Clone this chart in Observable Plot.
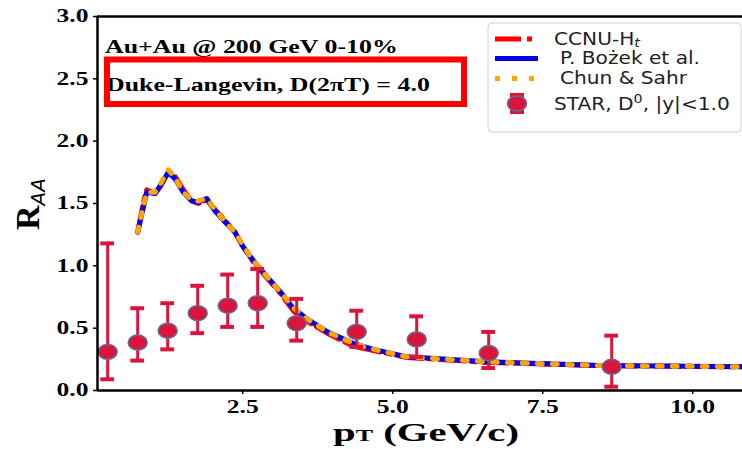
<!DOCTYPE html>
<html><head><meta charset="utf-8">
<script src="https://cdn.jsdelivr.net/npm/d3@7"></script>
<script src="https://cdn.jsdelivr.net/npm/@observablehq/plot@0.6"></script>
<style>
body{margin:0;background:#fff;}
#wrap{position:relative;width:742px;height:449px;overflow:hidden;background:#fff;}
</style></head>
<body><div id="wrap"></div>
<script>
// ---- data ----
const xTicks = [2.5, 5.0, 7.5, 10.0];
const yTicks = [0, 0.5, 1.0, 1.5, 2.0, 2.5, 3.0];

const starPt   = [0.25, 0.75, 1.25, 1.75, 2.25, 2.75, 3.4, 4.4, 5.4, 6.6, 8.65];
const starRaa  = [0.31, 0.385, 0.48, 0.62, 0.68, 0.70, 0.54, 0.47, 0.41, 0.30, 0.19];
const starLow  = [0.09, 0.24, 0.33, 0.46, 0.51, 0.51, 0.40, 0.35, 0.27, 0.18, 0.03];
const starHigh = [1.18, 0.66, 0.70, 0.84, 0.93, 0.975, 0.735, 0.64, 0.595, 0.47, 0.44];

const modelPt = [0.75, 0.845, 0.90, 1.04, 1.12, 1.26, 1.37, 1.51, 1.65, 1.76, 1.90, 2.04, 2.21, 2.37, 2.51, 2.68, 2.91, 3.13, 3.35, 3.57, 3.91, 4.24, 4.35, 4.68, 5.24, 6.57, 8.46, 10.83];
const ccnu    = [1.27, 1.51, 1.61, 1.58, 1.63, 1.75, 1.72, 1.61, 1.52, 1.50, 1.53, 1.45, 1.36, 1.27, 1.15, 1.03, 0.90, 0.78, 0.635, 0.555, 0.46, 0.38, 0.355, 0.32, 0.265, 0.225, 0.20, 0.19];
const bozek   = [1.27, 1.47, 1.59, 1.58, 1.64, 1.75, 1.70, 1.59, 1.52, 1.51, 1.54, 1.44, 1.35, 1.27, 1.15, 1.04, 0.91, 0.79, 0.655, 0.575, 0.47, 0.40, 0.375, 0.33, 0.27, 0.23, 0.20, 0.19];
const chun    = [1.27, 1.48, 1.59, 1.59, 1.65, 1.77, 1.71, 1.59, 1.53, 1.52, 1.54, 1.45, 1.35, 1.27, 1.16, 1.04, 0.91, 0.79, 0.66, 0.575, 0.47, 0.40, 0.375, 0.33, 0.27, 0.23, 0.20, 0.19];

const star = starPt.map((x, i) => ({x, y: starRaa[i], lo: starLow[i], hi: starHigh[i]}));
const models = [
  {name: "CCNU", vals: ccnu},
  {name: "Bozek", vals: bozek},
  {name: "Chun", vals: chun}
];
const modelRows = name => modelPt.map((x, i) => ({x, y: models.find(m => m.name === name).vals[i]}));

const RED = "#ff0000", BLUE = "#0000f0", ORANGE = "#ffa500", CRIMSON = "#dc143c", DOTSTROKE = "#5d6f92";
const capHalf = 0.115;

const ellipse = {
  draw(ctx, size) {
    const r = Math.sqrt(size / Math.PI), rx = r * 1.13, ry = r * 0.89, k = 0.5523;
    ctx.moveTo(rx, 0);
    ctx.bezierCurveTo(rx, ry * k, rx * k, ry, 0, ry);
    ctx.bezierCurveTo(-rx * k, ry, -rx, ry * k, -rx, 0);
    ctx.bezierCurveTo(-rx, -ry * k, -rx * k, -ry, 0, -ry);
    ctx.bezierCurveTo(rx * k, -ry, rx, -ry * k, rx, 0);
    ctx.closePath();
  }
};

const SERIF = '"Liberation Serif", "Times New Roman", serif';
const SANS = '"DejaVu Sans", sans-serif';

const svg = Plot.plot({
  width: 742, height: 449,
  marginLeft: 97, marginRight: 0, marginTop: 16, marginBottom: 59,
  style: {fontFamily: SERIF, fontSize: "18px", fontWeight: "bold", color: "#000", background: "#fff", overflow: "visible"},
  x: {domain: [0.08, 10.83]},
  y: {domain: [0, 3]},
  marks: [
    Plot.line(modelRows("CCNU"), {x: "x", y: "y", stroke: RED, strokeWidth: 5, strokeDasharray: "26,6,5,6", curve: "linear"}),
    Plot.line(modelRows("Bozek"), {x: "x", y: "y", stroke: BLUE, strokeWidth: 5, curve: "linear"}),
    Plot.line(modelRows("Chun"), {x: "x", y: "y", stroke: ORANGE, strokeWidth: 5, strokeDasharray: "5,10", curve: "linear"}),
    Plot.ruleX(star, {x: "x", y1: "lo", y2: "hi", stroke: CRIMSON, strokeWidth: 3}),
    Plot.ruleY(star, {y: "lo", x1: d => d.x - capHalf, x2: d => d.x + capHalf, stroke: CRIMSON, strokeWidth: 4}),
    Plot.ruleY(star, {y: "hi", x1: d => d.x - capHalf, x2: d => d.x + capHalf, stroke: CRIMSON, strokeWidth: 4}),
    Plot.dot(star, {x: "x", y: "y", r: 8.4, symbol: ellipse, fill: CRIMSON, stroke: DOTSTROKE, strokeWidth: 1.5}),
    Plot.ruleY([0, 3], {stroke: "#000", strokeWidth: 2.5}),
    Plot.ruleX([0.08], {stroke: "#000", strokeWidth: 2.5}),
    Plot.axisY({ticks: yTicks, tickFormat: d => d.toFixed(1), tickSize: 4, tickPadding: 5, label: null, strokeWidth: 1.5}),
    Plot.axisX({ticks: xTicks, tickFormat: d => d.toFixed(1), tickSize: 4, tickPadding: 6, label: null, strokeWidth: 1.5})
  ]
});

document.getElementById("wrap").appendChild(svg);

// horizontally stretch a text element about an anchor
function stretch(el, s, anchor) {
  const b = el.getBBox();
  const ax = anchor === "end" ? b.x + b.width : anchor === "middle" ? b.x + b.width / 2 : b.x;
  const t = el.getAttribute("transform") || "";
  el.setAttribute("transform", `${t} translate(${ax},0) scale(${s},1) translate(${-ax},0)`);
}
function fitWidth(el, target, anchor) {
  const w = el.getBBox().width;
  stretch(el, target / w, anchor);
}

const S = d3.select(svg);
S.selectAll('g[aria-label="y-axis tick label"] text').each(function() { stretch(this, 1.42, "end"); });
S.selectAll('g[aria-label="x-axis tick label"] text').each(function() { stretch(this, 1.42, "middle"); });

// annotations
const ann = S.append("g").attr("font-family", SERIF).attr("font-weight", "bold").attr("fill", "#000").attr("text-anchor", "start");
const t1 = ann.append("text").attr("x", 105).attr("y", 53).attr("font-size", 18).text("Au+Au @ 200 GeV 0-10%");
fitWidth(t1.node(), 293, "start");
const t2 = ann.append("text").attr("x", 106).attr("y", 91).attr("font-size", 19).text("Duke-Langevin, D(2\u03C0T) = 4.0");
fitWidth(t2.node(), 324, "start");
ann.append("rect").attr("x", 107).attr("y", 59.5).attr("width", 357).attr("height", 44.5)
  .attr("fill", "none").attr("stroke", RED).attr("stroke-width", 6);

// axis titles
const xl = S.append("text").attr("text-anchor", "start").attr("font-family", SERIF).attr("font-weight", "bold").attr("font-size", 25)
  .attr("x", 333).attr("y", 441).attr("fill", "#000");
xl.append("tspan").text("p");
xl.append("tspan").attr("font-size", 16).text("T");
xl.append("tspan").text(" (GeV/c)");
fitWidth(xl.node(), 186, "start");

const yl = S.append("text").attr("text-anchor", "start").attr("transform", "translate(39,230) rotate(-90)").attr("fill", "#000");
yl.append("tspan").attr("font-family", SERIF).attr("font-weight", "bold").attr("font-size", 34).text("R");
yl.append("tspan").attr("font-family", SANS).attr("font-weight", "normal").attr("font-style", "italic").attr("font-size", 20).attr("dy", 6).text("AA");

// legend
const lg = S.append("g").attr("text-anchor", "start").attr("font-family", SANS).attr("font-size", 17).attr("font-weight", "normal").attr("fill", "#222");
lg.append("rect").attr("x", 488).attr("y", 23).attr("width", 253).attr("height", 109).attr("rx", 4)
  .attr("fill", "#fff").attr("fill-opacity", 0.85).attr("stroke", "#d0d0d0");
const legendRows = [
  {y: 39, stroke: RED, dash: "26,6,5,6"},
  {y: 58.5, stroke: BLUE, dash: null},
  {y: 78.5, stroke: ORANGE, dash: "5,12"}
];
legendRows.forEach(r => {
  lg.append("line").attr("x1", 495).attr("x2", 538).attr("y1", r.y).attr("y2", r.y)
    .attr("stroke", r.stroke).attr("stroke-width", 5).attr("stroke-dasharray", r.dash);
});
// marker sample
lg.append("line").attr("x1", 517).attr("x2", 517).attr("y1", 94).attr("y2", 113).attr("stroke", CRIMSON).attr("stroke-width", 3);
lg.append("line").attr("x1", 510).attr("x2", 524).attr("y1", 95).attr("y2", 95).attr("stroke", CRIMSON).attr("stroke-width", 4);
lg.append("line").attr("x1", 510).attr("x2", 524).attr("y1", 112).attr("y2", 112).attr("stroke", CRIMSON).attr("stroke-width", 4);
lg.append("ellipse").attr("cx", 517).attr("cy", 103.5).attr("rx", 9.5).attr("ry", 7.5).attr("fill", CRIMSON).attr("stroke", DOTSTROKE).attr("stroke-width", 1.5);

const lt1 = lg.append("text").attr("x", 554).attr("y", 45);
lt1.append("tspan").text("CCNU-H");
lt1.append("tspan").attr("font-size", 12).attr("font-style", "italic").attr("dy", 2).text("t");
const lt2 = lg.append("text").attr("x", 560).attr("y", 64.5).text("P. Bo\u017Cek et al.");
const lt3 = lg.append("text").attr("x", 560).attr("y", 84.5).text("Chun & Sahr");
const lt4 = lg.append("text").attr("x", 554).attr("y", 110);
lt4.append("tspan").text("STAR, D");
lt4.append("tspan").attr("font-size", 12).attr("dy", -7).text("0");
lt4.append("tspan").attr("dy", 7).text(", |y|<1.0");
const ls = 176 / lt4.node().getBBox().width;
[lt1, lt2, lt3, lt4].forEach(t => stretch(t.node(), ls, "start"));
</script>
</body></html>
